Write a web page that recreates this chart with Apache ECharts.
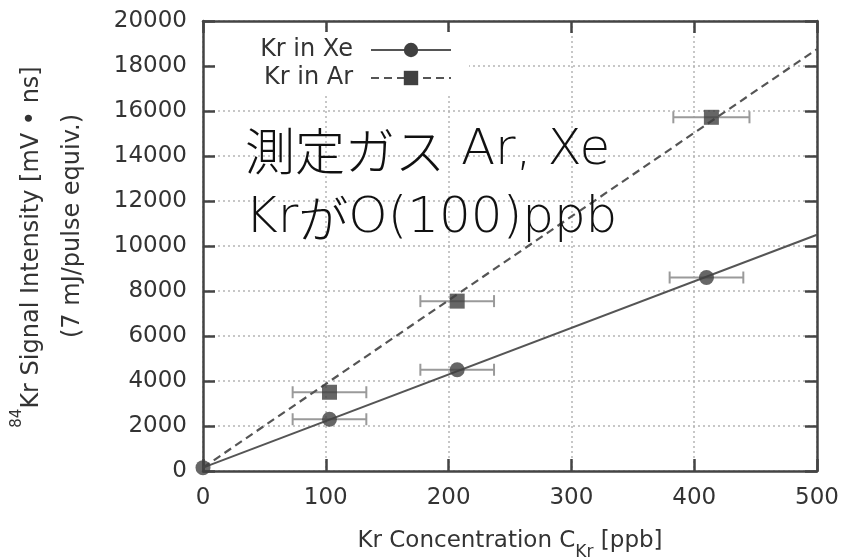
<!DOCTYPE html>
<html>
<head>
<meta charset="utf-8">
<script src="https://cdn.jsdelivr.net/npm/echarts@6/dist/echarts.min.js"></script>
<style>
html,body{margin:0;padding:0;background:#fff;}
#chart{width:862px;height:558px;}
</style>
</head>
<body>
<div id="chart"></div>
<script>
// ---- data ----
const seriesNames = ['Kr in Xe', 'Kr in Ar'];
const xeConc   = [0, 103, 207, 410];
const xeSignal = [150, 2300, 4500, 8600];
const xeErr    = [0, 30, 30, 30];
const arConc   = [103, 207, 414];
const arSignal = [3500, 7550, 15720];
const arErr    = [30, 30, 31];
const fitConc     = [0, 500];
const xeFitSignal = [150, 10500];
const arFitSignal = [150, 18750];
const xRange = [0, 500, 100];     // min, max, interval
const yRange = [0, 20000, 2000];
const xTitle = ['Kr Concentration C', 'Kr', ' [ppb]'];
const yTitle1 = ['84', 'Kr Signal Intensity [mV \u2022 ns]'];
const yTitle2 = '(7 mJ/pulse equiv.)';
const note1 = [['j', '測定ガス'], ['l', ' Ar, Xe']];
const note2 = [['l', 'Kr'], ['j', 'が'], ['l', 'O(100)ppb']];

const FONT = 'DejaVu Sans';
const AX = '#444';
const chart = echarts.init(document.getElementById('chart'), null, {renderer: 'canvas'});

function pairs(xs, ys) { return xs.map((x, i) => [x, ys[i]]); }
function triples(xs, ys, es) { return xs.map((x, i) => [x, ys[i], es[i]]); }
function richText(parts) { return parts.map(p => '{' + p[0] + '|' + p[1] + '}').join(''); }

function errRender(params, api) {
  const x = api.value(0), y = api.value(1), e = api.value(2);
  if (!e) return null;
  const a = api.coord([x - e, y]), b = api.coord([x + e, y]);
  const h = 6;
  const st = {stroke: '#9a9a9a', lineWidth: 2};
  return {type: 'group', children: [
    {type: 'line', shape: {x1: a[0], y1: a[1], x2: b[0], y2: b[1]}, style: st},
    {type: 'line', shape: {x1: a[0], y1: a[1] - h, x2: a[0], y2: a[1] + h}, style: st},
    {type: 'line', shape: {x1: b[0], y1: b[1] - h, x2: b[0], y2: b[1] + h}, style: st}
  ]};
}

function tick() { return {show: true, inside: true, length: 12, lineStyle: {color: AX, width: 2.5}}; }
function gridLine() { return {show: true, lineStyle: {color: '#b5b5b5', width: 1.5, type: [2, 3]}}; }
function axLine() { return {show: true, onZero: false, lineStyle: {color: AX, width: 2.5}}; }

const noteRich = {
  j: {fontFamily: '"Noto Sans CJK JP"', fontWeight: 300, fontSize: 50, fill: '#111'},
  l: {fontFamily: FONT, fontWeight: 200, fontSize: 50, fill: '#111'}
};

const option = {
  animation: false,
  backgroundColor: '#fff',
  grid: {left: 203, right: 45, top: 21, bottom: 87, containLabel: false, outerBoundsMode: 'none'},
  legend: {
    data: seriesNames,
    orient: 'vertical',
    left: 215, top: 32,
    align: 'right',
    itemWidth: 80, itemHeight: 18, itemGap: 4,
    padding: [6, 17, 4, 40],
    backgroundColor: '#fff',
    selectedMode: false,
    textStyle: {fontFamily: FONT, fontSize: 24, color: '#333', lineHeight: 18, width: 98, align: 'right', padding: [0, 13, 0, 0]}
  },
  xAxis: [{
    type: 'value', min: xRange[0], max: xRange[1], interval: xRange[2],
    axisLine: axLine(),
    axisTick: tick(),
    splitLine: gridLine(),
    axisLabel: {fontFamily: FONT, fontSize: 23, color: '#333', margin: 16, formatter: v => String(v)},
    name: '{t|' + xTitle[0] + '}{s|' + xTitle[1] + '}{t|' + xTitle[2] + '}',
    nameLocation: 'middle', nameGap: 55,
    nameTextStyle: {rich: {
      t: {fontFamily: FONT, fontSize: 23, color: '#333', lineHeight: 30, verticalAlign: 'middle'},
      s: {fontFamily: FONT, fontSize: 17, color: '#333', lineHeight: 30, verticalAlign: 'bottom', padding: [0, 0, -5, 0]}
    }}
  }, {
    type: 'value', position: 'top', min: xRange[0], max: xRange[1], interval: xRange[2],
    axisLine: axLine(),
    axisTick: tick(), axisLabel: {show: false}, splitLine: {show: false}
  }],
  yAxis: [{
    type: 'value', position: 'left', min: yRange[0], max: yRange[1], interval: yRange[2],
    axisLine: axLine(),
    axisTick: tick(),
    splitLine: gridLine(),
    axisLabel: {fontFamily: FONT, fontSize: 23, color: '#333', margin: 16, formatter: v => String(v)}
  }, {
    type: 'value', position: 'right', min: yRange[0], max: yRange[1], interval: yRange[2],
    axisLine: axLine(),
    axisTick: tick(), axisLabel: {show: false}, splitLine: {show: false}
  }],
  series: [
    {name: seriesNames[0], type: 'line', data: pairs(fitConc, xeFitSignal),
     symbol: 'circle', symbolSize: 15, showSymbol: false, z: 3,
     itemStyle: {color: '#404040'}, lineStyle: {color: '#555', width: 2}},
    {name: seriesNames[1], type: 'line', data: pairs(fitConc, arFitSignal),
     symbol: 'rect', symbolSize: 15, showSymbol: false, z: 3,
     itemStyle: {color: '#404040'}, lineStyle: {color: '#555', width: 2.2, type: [8, 5]}},
    {name: 'xe-err', type: 'custom', renderItem: errRender, data: triples(xeConc, xeSignal, xeErr), z: 2},
    {name: 'ar-err', type: 'custom', renderItem: errRender, data: triples(arConc, arSignal, arErr), z: 2},
    {name: 'xe-pts', type: 'scatter', data: pairs(xeConc, xeSignal), symbol: 'circle', symbolSize: 15,
     itemStyle: {color: '#404040'}, z: 4},
    {name: 'ar-pts', type: 'scatter', data: pairs(arConc, arSignal), symbol: 'rect', symbolSize: 15,
     itemStyle: {color: '#404040'}, z: 4}
  ],
  graphic: [
    {type: 'text', x: 32, y: 247, rotation: Math.PI / 2, z: 10,
     style: {text: '{s|' + yTitle1[0] + '}{t|' + yTitle1[1] + '}', align: 'center', verticalAlign: 'middle',
       rich: {
         t: {fontFamily: FONT, fontSize: 24, fill: '#333', lineHeight: 28},
         s: {fontFamily: FONT, fontSize: 15, fill: '#333', lineHeight: 28, verticalAlign: 'top', padding: [-8, 0, 0, 0]}
       }}},
    {type: 'text', x: 73, y: 226, rotation: Math.PI / 2, z: 10,
     style: {text: yTitle2, fontFamily: FONT, fontSize: 24, fill: '#333', align: 'center', verticalAlign: 'middle'}},
    {type: 'text', x: 245, y: 151, z: 20,
     style: {text: richText(note1), rich: noteRich, align: 'left', verticalAlign: 'middle'}},
    {type: 'text', x: 245, y: 219, z: 20,
     style: {text: richText(note2), rich: noteRich, align: 'left', verticalAlign: 'middle'}}
  ]
};
chart.setOption(option);
</script>
</body>
</html>
